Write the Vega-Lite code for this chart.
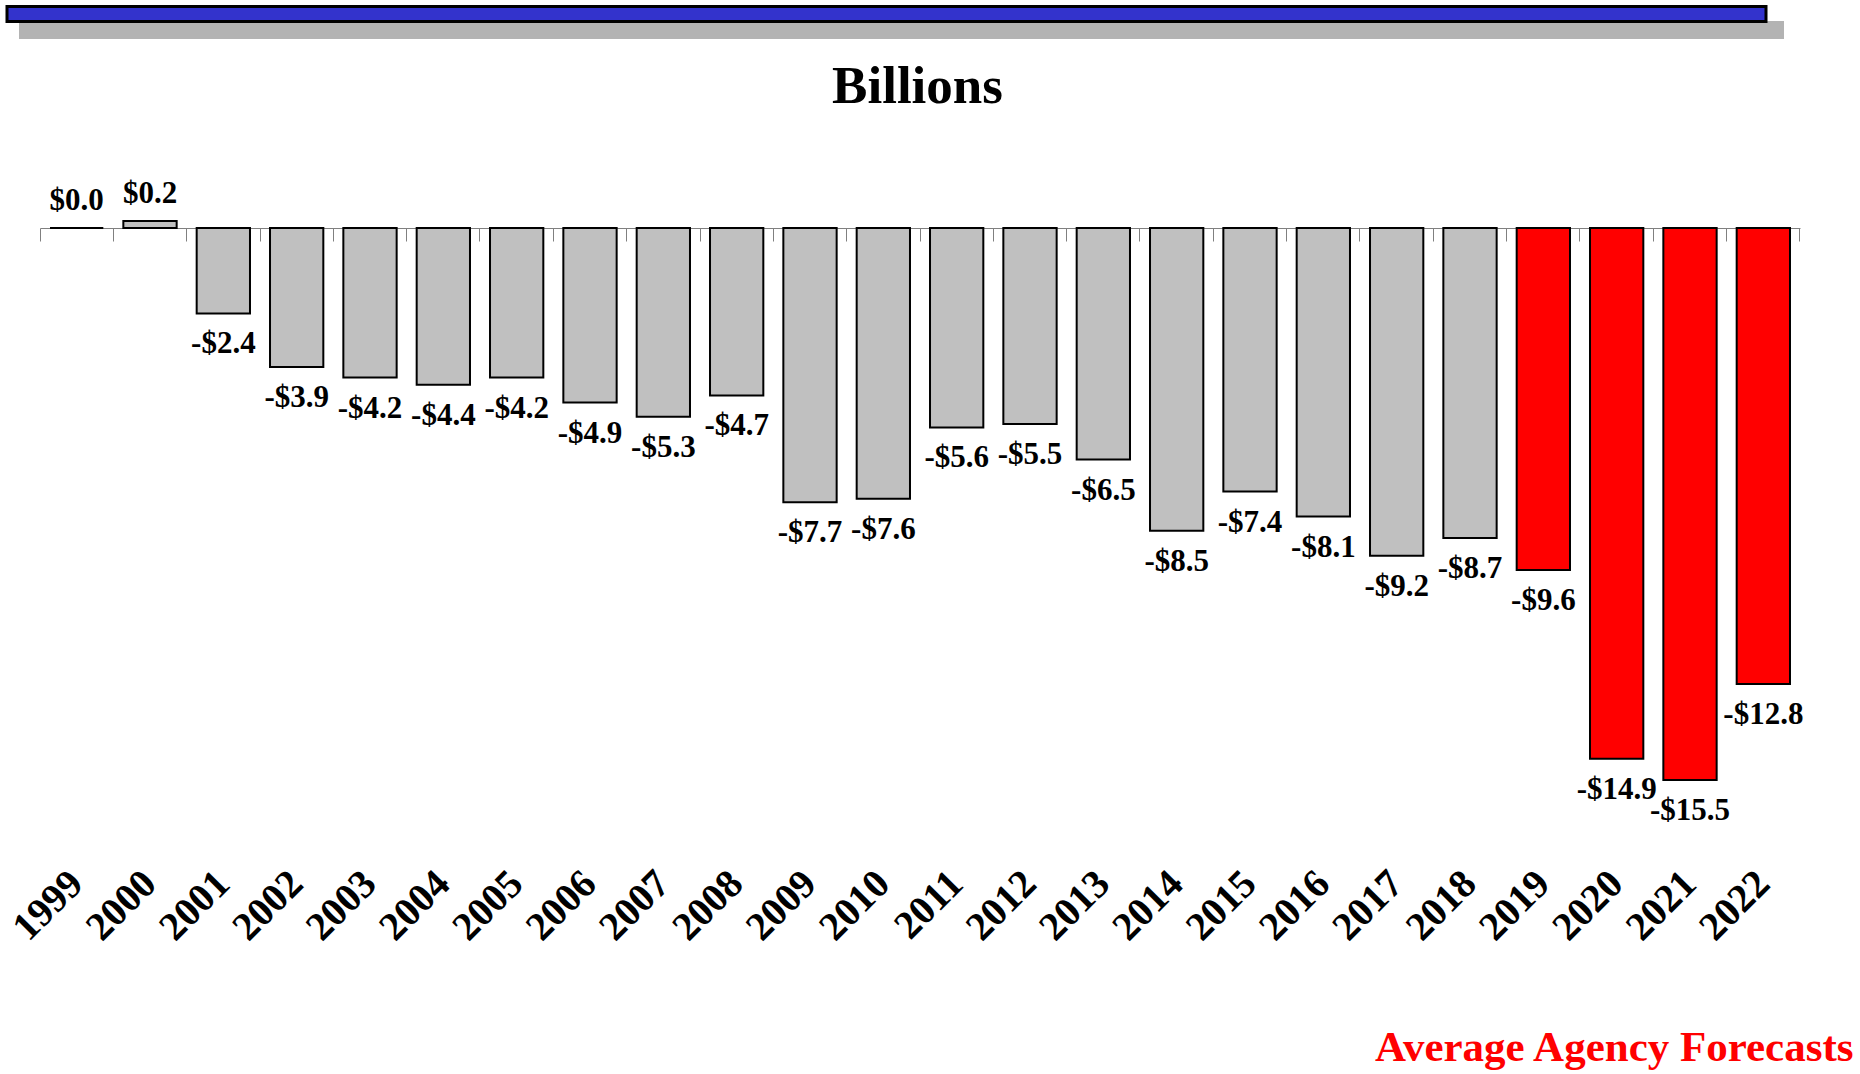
{
  "$schema": "https://vega.github.io/schema/vega-lite/v6.json",
  "width": 1760,
  "height": 634,
  "autosize": "none",
  "padding": {"left": 40, "top": 228, "right": 60, "bottom": 212},
  "background": "white",
  "config": {"view": {"stroke": null}, "font": "Liberation Serif"},
  "datasets": {
    "rev": [
      {"year": "1999", "value": 0.0, "label": "$0.0", "type": "Actual"},
      {"year": "2000", "value": 0.2, "label": "$0.2", "type": "Actual"},
      {"year": "2001", "value": -2.4, "label": "-$2.4", "type": "Actual"},
      {"year": "2002", "value": -3.9, "label": "-$3.9", "type": "Actual"},
      {"year": "2003", "value": -4.2, "label": "-$4.2", "type": "Actual"},
      {"year": "2004", "value": -4.4, "label": "-$4.4", "type": "Actual"},
      {"year": "2005", "value": -4.2, "label": "-$4.2", "type": "Actual"},
      {"year": "2006", "value": -4.9, "label": "-$4.9", "type": "Actual"},
      {"year": "2007", "value": -5.3, "label": "-$5.3", "type": "Actual"},
      {"year": "2008", "value": -4.7, "label": "-$4.7", "type": "Actual"},
      {"year": "2009", "value": -7.7, "label": "-$7.7", "type": "Actual"},
      {"year": "2010", "value": -7.6, "label": "-$7.6", "type": "Actual"},
      {"year": "2011", "value": -5.6, "label": "-$5.6", "type": "Actual"},
      {"year": "2012", "value": -5.5, "label": "-$5.5", "type": "Actual"},
      {"year": "2013", "value": -6.5, "label": "-$6.5", "type": "Actual"},
      {"year": "2014", "value": -8.5, "label": "-$8.5", "type": "Actual"},
      {"year": "2015", "value": -7.4, "label": "-$7.4", "type": "Actual"},
      {"year": "2016", "value": -8.1, "label": "-$8.1", "type": "Actual"},
      {"year": "2017", "value": -9.2, "label": "-$9.2", "type": "Actual"},
      {"year": "2018", "value": -8.7, "label": "-$8.7", "type": "Actual"},
      {"year": "2019", "value": -9.6, "label": "-$9.6", "type": "Forecast"},
      {"year": "2020", "value": -14.9, "label": "-$14.9", "type": "Forecast"},
      {"year": "2021", "value": -15.5, "label": "-$15.5", "type": "Forecast"},
      {"year": "2022", "value": -12.8, "label": "-$12.8", "type": "Forecast"}
    ]
  },
  "layer": [
    {
      "data": {"values": [{}]},
      "mark": {"type": "rect", "fill": "#B3B3B3"},
      "encoding": {"x": {"value": -21}, "x2": {"value": 1744}, "y": {"value": -207}, "y2": {"value": -189}}
    },
    {
      "data": {"values": [{}]},
      "mark": {"type": "rect", "fill": "#3333CC", "stroke": "#000000", "strokeWidth": 3},
      "encoding": {"x": {"value": -33}, "x2": {"value": 1726}, "y": {"value": -221.5}, "y2": {"value": -206.5}}
    },
    {
      "data": {"name": "rev"},
      "mark": {"type": "bar", "width": {"band": 0.727}, "stroke": "#000000", "strokeWidth": 2},
      "encoding": {
        "x": {
          "field": "year", "type": "ordinal", "sort": null,
          "scale": {"paddingInner": 0, "paddingOuter": 0},
          "axis": {
            "orient": "top", "labels": false, "grid": false,
            "domain": true, "domainColor": "#808080", "domainWidth": 1,
            "ticks": true, "tickColor": "#808080", "tickWidth": 1, "tickSize": -13,
            "bandPosition": 1, "tickExtra": true,
            "title": "Billions", "titleFont": "Liberation Serif", "titleFontWeight": "bold",
            "titleFontSize": 53, "titleColor": "#000000", "titleX": 877, "titleY": -126,
            "titleAlign": "center", "titleBaseline": "alphabetic", "titleAngle": 0
          }
        },
        "y": {"field": "value", "type": "quantitative", "scale": {"domain": [-17.8, 0], "nice": false}, "axis": null},
        "y2": {"datum": 0},
        "fill": {"field": "type", "type": "nominal", "scale": {"domain": ["Actual", "Forecast"], "range": ["#C0C0C0", "#FF0000"]}, "legend": null}
      }
    },
    {
      "data": {"name": "rev"},
      "transform": [{"filter": "datum.value >= 0"}],
      "mark": {"type": "text", "font": "Liberation Serif", "fontWeight": "bold", "fontSize": 31, "color": "#000000", "align": "center", "baseline": "alphabetic", "dy": -18},
      "encoding": {
        "x": {"field": "year", "type": "ordinal", "sort": null, "axis": null},
        "y": {"field": "value", "type": "quantitative"},
        "text": {"field": "label"}
      }
    },
    {
      "data": {"name": "rev"},
      "transform": [{"filter": "datum.value < 0"}],
      "mark": {"type": "text", "font": "Liberation Serif", "fontWeight": "bold", "fontSize": 31, "color": "#000000", "align": "center", "baseline": "alphabetic", "dy": 40},
      "encoding": {
        "x": {
          "field": "year", "type": "ordinal", "sort": null,
          "axis": {
            "orient": "bottom", "domain": false, "ticks": false, "grid": false,
            "labelAngle": -45, "labelAlign": "right", "labelBaseline": "middle",
            "labelFont": "Liberation Serif", "labelFontWeight": "bold", "labelFontSize": 40,
            "labelColor": "#000000", "labelPadding": 15,
            "title": "Average Agency Forecasts", "titleFont": "Liberation Serif", "titleFontWeight": "bold",
            "titleFontSize": 43, "titleColor": "#FF0000", "titleX": 1813, "titleY": 198,
            "titleAlign": "right", "titleBaseline": "alphabetic", "titleAngle": 0
          }
        },
        "y": {"field": "value", "type": "quantitative"},
        "text": {"field": "label"}
      }
    }
  ],
  "resolve": {"axis": {"x": "independent"}}
}
